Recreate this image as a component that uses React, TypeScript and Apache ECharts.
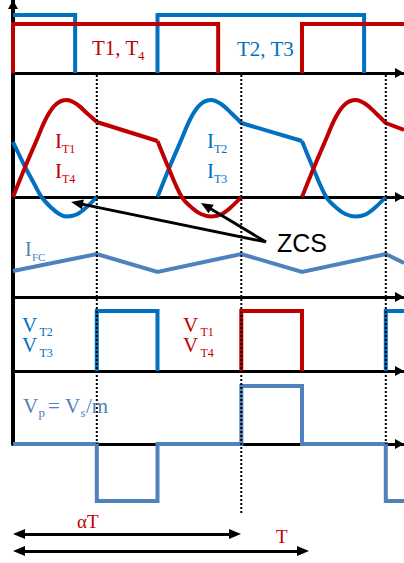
import React, { useEffect, useRef } from "react";
import * as echarts from "echarts";

// ---------- data (time unit: switching period = 100) ----------
const T_MAX = 135.3;
const dottedTimes = [29, 79, 129];

// gate signals (segments)
const gateT14 = [
  [[0, 0], [0, 49], [71, 49], [71, 0]],
  [[100, 0], [100, 49], [135.3, 49]],
];
const gateT23 = [
  [[0, 58], [21.5, 58], [21.5, 0]],
  [[50, 0], [50, 58], [121.5, 58], [121.5, 0]],
];

// switch currents (segments)
const iT14 = [
  [[0, 0], [4.2, 30], [8.2, 57], [11.7, 80], [15, 93], [18.6, 97], [22, 93], [25.5, 84], [29, 75]],
  [[29, 75], [50, 56]],
  [[50, 56], [53.7, 30], [58.4, 0], [62, -11], [65, -17], [68.5, -19.5], [72, -17.5], [75.5, -10], [79, 0]],
  [[100, 0], [104.2, 30], [108.2, 57], [111.7, 80], [115, 93], [118.6, 97], [122, 93], [125.5, 84], [129, 74]],
  [[129, 74], [135.3, 67]],
];
const iT23 = [
  [[0, 55], [2, 43], [4.2, 30], [7, 15], [9.9, 0], [13, -10], [16, -17], [18.5, -19.5], [22, -17.5], [25.5, -10], [29, 0]],
  [[50, 0], [54.2, 30], [58.2, 57], [61.7, 80], [65, 93], [68.6, 97], [72, 93], [75.5, 84], [79, 74]],
  [[79, 74], [100, 56]],
  [[100, 56], [103.7, 30], [108.4, 0], [112, -11], [115, -17], [118.5, -19.5], [122, -17.5], [125.5, -10], [129, 0]],
];

// fuel-cell current
const iFC = [[0, 26], [29, 43], [50, 25], [79, 43], [100, 25], [129, 43], [135.3, 34]];

// switch voltages (segments)
const vT23 = [
  [[29, 0], [29, 60], [50, 60], [50, 0]],
  [[129, 0], [129, 60], [135.3, 60]],
];
const vT14 = [[[79, 0], [79, 60], [100, 60], [100, 0]]];

// primary voltage
const vP = [[0, 0], [29, 0], [29, -57], [50, -57], [50, 0], [79, 0], [79, 58], [100, 58], [100, 0], [129, 0], [129, -57], [135.3, -57]];

// ---------- styles / layout ----------
const RED = "#c00000";
const BLUE = "#0070c0";
const STEEL = "#4f81bd";
const SERIF = '"Liberation Serif", "Times New Roman", serif';
const SANS = '"Liberation Sans", Arial, sans-serif';

const DOT_TOP = 75;
const DOT_BOTTOMS = [444, 515, 444];

export default function App() {
  const ref = useRef<HTMLDivElement>(null);

  useEffect(() => {
    document.body.style.margin = "0";
    const chart = echarts.init(ref.current!, null, { renderer: "svg" });

    const grids = [
      { left: 13, right: 0, top: 0, height: 73 },
      { left: 13, right: 0, top: 97, height: 125 },
      { left: 13, right: 0, top: 247, height: 50 },
      { left: 13, right: 0, top: 301, height: 70 },
      { left: 13, right: 0, top: 381, height: 125 },
      { left: 13, right: 0, top: 0, height: 444 },
      { left: 13, right: 0, top: 0, height: 563 },
      { left: 0, right: 0, top: 0, height: 563 },
    ].map((g) => ({ ...g, containLabel: false, outerBoundsMode: "none" }));

    const arrowAxisLine = (width: number) => ({
      show: true,
      onZero: true,
      symbol: ["none", "triangle"],
      symbolSize: [10, 9],
      symbolOffset: [0, -4.5],
      lineStyle: { color: "#000", width },
    });

    const xAxes: any[] = [];
    for (let i = 0; i < 8; i++) {
      const visible = i <= 4;
      xAxes.push({
        type: "value",
        gridIndex: i,
        min: 0,
        max: i === 7 ? 404 : T_MAX,
        show: visible,
        axisLine: visible ? arrowAxisLine(3) : { show: false },
        axisTick: { show: false },
        axisLabel: { show: false },
        splitLine: { show: false },
      });
    }
    const yRanges = [
      [0, 73],
      [-25, 100],
      [0, 50],
      [0, 70],
      [-62, 63],
    ];
    const yAxes: any[] = yRanges.map((r, i) => ({
      type: "value",
      gridIndex: i,
      min: r[0],
      max: r[1],
      show: false,
    }));
    yAxes.push({
      type: "value",
      gridIndex: 5,
      min: 0,
      max: 444,
      show: true,
      axisLine: { ...arrowAxisLine(4), onZero: false },
      axisTick: { show: false },
      axisLabel: { show: false },
      splitLine: { show: false },
    });
    yAxes.push({ type: "value", gridIndex: 6, min: 0, max: 563, inverse: true, show: false });
    yAxes.push({ type: "value", gridIndex: 7, min: 0, max: 563, inverse: true, show: false });

    const seg = (data: number[][], idx: number, color: string, smooth: number | boolean = false, z = 2) => ({
      type: "line",
      xAxisIndex: idx,
      yAxisIndex: idx,
      data,
      smooth,
      symbol: "none",
      clip: false,
      silent: true,
      z,
      lineStyle: { color, width: 4, cap: "butt", join: "miter" },
    });

    const series: any[] = [];
    gateT23.forEach((s) => series.push(seg(s, 0, BLUE)));
    gateT14.forEach((s) => series.push(seg(s, 0, RED, false, 3)));
    iT23.forEach((s) => series.push(seg(s, 1, BLUE, 0.35)));
    iT14.forEach((s) => series.push(seg(s, 1, RED, 0.35, 3)));
    series.push(seg(iFC, 2, STEEL));
    vT23.forEach((s) => series.push(seg(s, 3, BLUE)));
    vT14.forEach((s) => series.push(seg(s, 3, RED)));
    series.push(seg(vP, 4, STEEL));

    // dotted switching instants
    dottedTimes.forEach((t, i) => {
      series.push({
        type: "line",
        xAxisIndex: 6,
        yAxisIndex: 6,
        data: [[t, DOT_TOP], [t, DOT_BOTTOMS[i]]],
        symbol: "none",
        clip: false,
        silent: true,
        z: 5,
        lineStyle: { color: "#000", width: 2, type: "dotted" },
      });
    });

    // annotation arrows (pixel overlay)
    const head = (x: number, y: number) => ({ coord: [x, y], symbol: "triangle", symbolSize: [10, 12] });
    const tail = (x: number, y: number) => ({ coord: [x, y], symbol: "none" });
    series.push({
      type: "line",
      xAxisIndex: 7,
      yAxisIndex: 7,
      data: [],
      symbol: "none",
      silent: true,
      z: 6,
      markLine: {
        silent: true,
        animation: false,
        label: { show: false },
        emphasis: { disabled: true },
        lineStyle: { color: "#000", width: 2.8, type: "solid" },
        data: [
          [tail(266, 242), head(77, 203.2)],
          [tail(266, 242), head(206, 206)],
          [head(19, 534), head(235, 534)],
          [head(19, 551), head(303, 551)],
        ],
      },
    });

    const txt = (text: string, x: number, y: number, size: number, fill: string, family = SERIF) => ({
      type: "text",
      x,
      y,
      z: 10,
      silent: true,
      style: { text, fill, font: `${size}px ${family}`, align: "left", verticalAlign: "middle" },
    });

    const graphic: any[] = [
      txt("T1, T", 92, 48, 21, RED),
      txt("4", 138, 55, 13, RED),
      txt("T2, T3", 237, 48.5, 21, BLUE),
      txt("I", 55, 141, 21, RED),
      txt("T1", 62, 149, 12, RED),
      txt("I", 55, 170.5, 21, RED),
      txt("T4", 62, 179, 12, RED),
      txt("I", 207, 141, 21, BLUE),
      txt("T2", 214, 149, 12, BLUE),
      txt("I", 207, 170.5, 21, BLUE),
      txt("T3", 214, 179, 12, BLUE),
      txt("ZCS", 277, 242.5, 25, "#000", SANS),
      txt("I", 25, 248.5, 20, STEEL),
      txt("FC", 32, 256.5, 11, STEEL),
      txt("V", 22, 324.5, 21, BLUE),
      txt("T2", 39.5, 331.5, 12, BLUE),
      txt("V", 22, 345, 21, BLUE),
      txt("T3", 39.5, 352.5, 12, BLUE),
      txt("V", 183, 324.5, 21, RED),
      txt("T1", 200.5, 331.5, 12, RED),
      txt("V", 183, 345, 21, RED),
      txt("T4", 200.5, 352.5, 12, RED),
      txt("V", 23, 405.5, 21, STEEL),
      txt("p", 38.5, 412, 13, STEEL),
      txt("=", 48, 406, 21, STEEL),
      txt("V", 65, 405.5, 21, STEEL),
      txt("s", 80.5, 412, 13, STEEL),
      txt("/m", 86, 405.5, 21, STEEL),
      txt("\u03b1T", 77, 521, 19, RED),
      txt("T", 276, 536.5, 19, RED),
    ];

    chart.setOption({
      animation: false,
      backgroundColor: "#ffffff",
      grid: grids,
      xAxis: xAxes,
      yAxis: yAxes,
      series,
      graphic,
    });

    return () => chart.dispose();
  }, []);

  return <div ref={ref} style={{ width: 404, height: 563 }} />;
}
